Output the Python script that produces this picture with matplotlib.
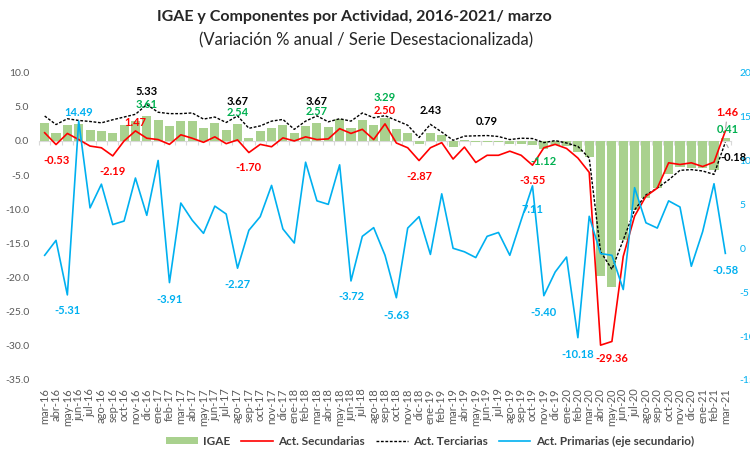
import matplotlib

matplotlib.use("Agg")
import matplotlib.pyplot as plt  # noqa: E402
import numpy as np  # noqa: E402
from matplotlib.lines import Line2D  # noqa: E402
from matplotlib.patches import Patch  # noqa: E402

# mar-16 .. mar-21, variación % anual, serie desestacionalizada
MESES = ["ene", "feb", "mar", "abr", "may", "jun", "jul", "ago", "sep", "oct", "nov", "dic"]
periodos = [f"{MESES[m % 12]}-{16 + m // 12}" for m in range(2, 63)]

igae = [2.6, 1.1, 2.3, 2.5, 1.6, 1.45, 1.2, 2.3, 2.85, 3.61,
        3.1, 2.2, 2.95, 2.95, 1.9, 2.6, 1.6, 2.54, 0.45, 1.45,
        1.85, 2.35, 1.2, 2.2, 2.57, 2.1, 3.25, 1.85, 3.05, 2.35,
        3.29, 1.7, 1.15, -0.5, 1.2, 0.8, -0.85, 0.1, -0.2, -0.15,
        -0.2, -0.5, -0.5, -0.65, -1.12, -0.6, -0.7, -1.6, -2.4, -19.8,
        -21.4, -14.5, -10.1, -8.4, -6.9, -4.9, -3.8, -3.9, -4.0, -4.3,
        0.41]
secundarias = [1.2, -0.53, 1.1, 0.2, -0.75, -1.0, -2.19, 0.0, 1.47, 0.4,
               0.2, -0.5, 0.9, 0.4, -0.2, 0.6, -0.4, 0.15, -1.70, -0.5,
               -0.85, 0.45, 0.0, 0.6, 0.2, 0.3, 1.8, 1.1, 1.7, 0.2,
               2.50, -0.3, -1.0, -2.87, -1.0, -0.25, -2.65, -0.9, -3.15, -2.1,
               -2.1, -1.5, -2.1, -3.55, -1.0, -0.5, -1.1, -2.5, -4.6, -29.9,
               -29.36, -16.9, -11.0, -8.1, -6.9, -3.2, -3.45, -3.2, -3.75, -3.1,
               1.46]
terciarias = [3.65, 2.4, 3.25, 3.0, 2.85, 2.65, 3.1, 3.5, 3.9, 5.33,
              4.2, 4.0, 4.0, 4.1, 3.2, 3.5, 2.7, 3.67, 1.85, 2.2,
              2.9, 3.15, 1.7, 2.9, 3.67, 2.8, 3.25, 2.9, 4.1, 3.4,
              3.7, 3.0, 2.3, 0.5, 2.43, 1.3, 0.1, 0.7, 0.75, 0.79,
              0.65, 0.2, 0.4, 0.35, -0.25, 0.05, -0.3, -0.8, -2.5, -16.2,
              -18.8, -14.5, -10.1, -7.9, -6.9, -5.7, -4.3, -4.2, -4.4, -4.9,
              -0.18]
primarias = [-0.8, 0.9, -5.31, 14.49, 4.6, 7.3, 2.7, 3.1, 8.0, 3.75,
             10.0, -3.91, 5.15, 3.2, 1.7, 4.8, 3.9, -2.27, 2.05, 3.6,
             7.16, 2.2, 0.6, 9.8, 5.4, 5.0, 9.5, -3.72, 1.36, 2.35,
             -0.8, -5.63, 2.3, 3.6, -0.7, 6.2, 0.0, -0.4, -1.06, 1.36,
             1.8, -0.8, 3.2, 7.11, -5.40, -2.7, -1.0, -10.18, 3.64, -0.6,
             -0.8, -4.7, 6.9, 2.9, 2.3, 5.4, 4.7, -2.05, 1.9, 7.35,
             -0.58]

GREEN_BAR = "#a9d18e"
GREEN_TXT = "#00b050"
RED = "#ff0000"
BLUE = "#00b0f0"
INK = "#000000"
TICK = "#595959"
AXIS = "#d9d9d9"

plt.rcParams.update({
    "font.family": ["Lato", "DejaVu Sans"],
    "figure.dpi": 100,
})

fig = plt.figure(figsize=(7.5, 4.54))
ax = fig.add_axes([0.052, 0.163, 0.9227, 0.677])
ax2 = ax.twinx()

x = np.arange(len(periodos))
ax.bar(x, igae, width=0.8, color=GREEN_BAR, linewidth=0, zorder=2)
ax.plot(x, secundarias, color=RED, linewidth=1.2, zorder=4)
ax.plot(x, terciarias, color=INK, linewidth=1.0, linestyle=(0, (2, 1.2)), zorder=3)
ax2.plot(x, primarias, color=BLUE, linewidth=1.2, zorder=3)

ax.set_xlim(-0.5, len(periodos) - 0.5)
ax.set_ylim(-35, 10)
ax2.set_ylim(-15, 20)

ax.set_xticks(x)
ax.set_xticklabels(periodos, rotation=90)
ax.tick_params(axis="x", length=0, pad=6, labelsize=8, labelcolor=TICK)
ax.set_yticks(np.arange(-35, 10.1, 5))
ax.yaxis.set_major_formatter(lambda v, _: f"{v:.1f}")
ax.tick_params(axis="y", length=0, pad=7, labelsize=7.5, labelcolor=TICK)
ax2.set_yticks(np.arange(-15, 20.1, 5))
ax2.yaxis.set_major_formatter(lambda v, _: f"{v:.0f}")
ax2.tick_params(axis="y", length=0, pad=6, labelsize=7.5, labelcolor=BLUE)
for a in (ax, ax2):
    for s in a.spines.values():
        s.set_visible(False)

# category axis crossing at zero, tick marks between categories
zero_axis = ax.secondary_xaxis(35 / 45)
zero_axis.set_alignment("bottom")
zero_axis.set_xticks(np.arange(len(periodos) + 1) - 0.5)
zero_axis.tick_params(length=3, width=0.8, color=AXIS, direction="out",
                      labelbottom=False, labeltop=False)
for s in zero_axis.spines.values():
    s.set_color(AXIS)
    s.set_linewidth(0.8)

series = {
    "igae": (igae, ax, GREEN_TXT),
    "sec": (secundarias, ax, RED),
    "ter": (terciarias, ax, INK),
    "pri": (primarias, ax2, BLUE),
}
# (serie, índice, desplazamiento x px, desplazamiento y px)
etiquetas = [
    ("ter", 9, 0, 13), ("igae", 9, 0, 12), ("sec", 8, 0, 8.5), ("pri", 3, 0, 8.5),
    ("sec", 1, 0, -16), ("sec", 6, 0, -15.5), ("ter", 17, 0, 14.5), ("igae", 17, 0, 11),
    ("sec", 18, 0, -15), ("pri", 2, 0, -16), ("pri", 11, 0, -16.5), ("pri", 17, 0, -16),
    ("ter", 24, 0, 14.5), ("igae", 24, 0, 12), ("igae", 30, 0, 21), ("sec", 30, 0, 13.5),
    ("ter", 34, 0, 14), ("sec", 33, 0, -16), ("ter", 39, 0, 14), ("pri", 27, 0, -16),
    ("pri", 31, 0, -17.5), ("igae", 44, 0, -13), ("sec", 43, 0, -15.5), ("pri", 43, 0, -24),
    ("pri", 44, 0, -16.5), ("pri", 47, 0, -16.5), ("sec", 50, 0, -17), ("pri", 60, 0, -17),
    ("igae", 60, 2, 9),
]
for key, i, dx, dy in etiquetas:
    vals, owner, color = series[key]
    ax2.annotate(f"{vals[i]:.2f}", xy=(i, vals[i]), xycoords=owner.transData,
                 xytext=(dx, dy), textcoords="offset pixels", ha="center", va="center",
                 fontsize=8, fontweight="bold", color=color, zorder=6)

# end labels with leader lines
for key, i, dx, dy in [("sec", 60, 2, 18.6), ("ter", 60, 8, -15)]:
    vals, owner, color = series[key]
    ax2.annotate(f"{vals[i]:.2f}", xy=(i, vals[i]), xycoords=owner.transData,
                 xytext=(dx, dy), textcoords="offset pixels", ha="center", va="center",
                 fontsize=8, fontweight="bold", color=color, zorder=6,
                 arrowprops=dict(arrowstyle="-", color="#a6a6a6", lw=0.8,
                                 shrinkA=1, shrinkB=2))

fig.text(0.473, 0.962, "IGAE y Componentes por Actividad, 2016-2021/ marzo",
         ha="center", va="center", fontsize=11.5, fontweight="bold", color="#262626")
fig.text(0.488, 0.912, "(Variación % anual / Serie Desestacionalizada)",
         ha="center", va="center", fontsize=12, color="#262626")

handles = [
    Patch(facecolor=GREEN_BAR, edgecolor="none"),
    Line2D([], [], color=RED, linewidth=1.2),
    Line2D([], [], color=INK, linewidth=1.0, linestyle=(0, (2, 1.2))),
    Line2D([], [], color=BLUE, linewidth=1.2),
]
labels = ["IGAE", "Act. Secundarias", "Act. Terciarias", "Act. Primarias (eje secundario)"]
leg = fig.legend(handles, labels, loc="center", bbox_to_anchor=(430 / 750, 1 - 441 / 454),
                 ncol=4, frameon=False, handlelength=2.7, handleheight=0.6,
                 handletextpad=0.45, columnspacing=0.9,
                 prop={"size": 8.5, "weight": "bold"})
for t in leg.get_texts():
    t.set_color("#404040")

fig.savefig("out.png", dpi=100, facecolor="white")
